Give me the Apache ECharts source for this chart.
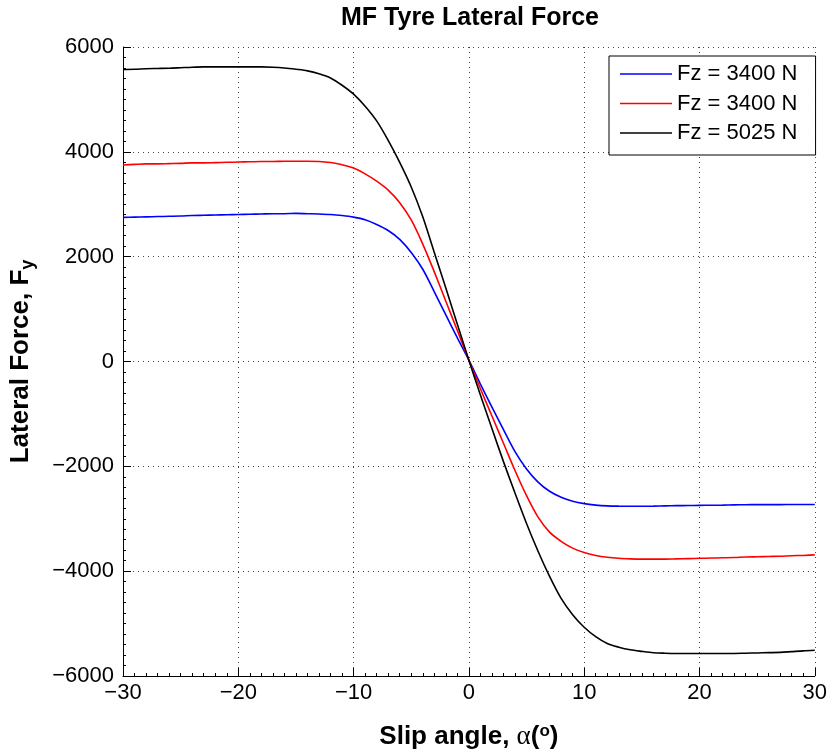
<!DOCTYPE html>
<html>
<head>
<meta charset="utf-8">
<script src="https://cdn.jsdelivr.net/npm/echarts@6/dist/echarts.min.js"></script>
<style>html,body{margin:0;padding:0;background:#fff;}#c{width:830px;height:755px;}</style>
</head>
<body>
<div id="c"></div>
<script>
const alpha = [-30,-29,-28,-27,-26,-25,-24,-23,-22,-21,-20,-19,-18,-17,-16,-15,-14,-13,-12,-11,-10,-9,-8,-7,-6,-5,-4,-3,-2,-1,0,1,2,3,4,5,6,7,8,9,10,11,12,13,14,15,16,17,18,19,20,21,22,23,24,25,26,27,28,29,30];
const fyBlue = [2750,2755,2760,2765,2770,2775,2785,2790,2795,2800,2805,2810,2815,2820,2820,2825,2820,2815,2805,2785,2755,2705,2615,2500,2330,2080,1760,1330,890,450,25,-430,-870,-1300,-1720,-2050,-2300,-2475,-2590,-2665,-2712,-2740,-2755,-2760,-2762,-2762,-2760,-2755,-2750,-2748,-2745,-2742,-2740,-2735,-2732,-2730,-2730,-2730,-2728,-2728,-2728];
const fyRed = [3750,3760,3770,3770,3775,3780,3790,3790,3795,3800,3805,3810,3815,3815,3820,3820,3820,3815,3795,3755,3690,3580,3440,3270,3030,2700,2240,1710,1150,590,25,-520,-1040,-1560,-2080,-2560,-2970,-3255,-3430,-3560,-3645,-3700,-3735,-3755,-3765,-3770,-3770,-3770,-3765,-3760,-3755,-3750,-3745,-3740,-3730,-3725,-3720,-3715,-3705,-3700,-3690];
const fyBlack = [5570,5575,5585,5590,5595,5605,5615,5620,5620,5620,5620,5620,5620,5615,5600,5575,5545,5490,5410,5270,5100,4870,4590,4220,3800,3330,2760,2080,1400,710,25,-640,-1280,-1910,-2510,-3090,-3620,-4100,-4520,-4830,-5070,-5250,-5380,-5450,-5500,-5530,-5555,-5565,-5570,-5570,-5570,-5570,-5570,-5570,-5565,-5560,-5555,-5550,-5535,-5520,-5510];
const seriesNames = ['Fz = 3400 N','Fz = 3400 N ','Fz = 5025 N'];
const seriesColors = ['#0000ff','#ff0000','#000000'];
const xTicks = {min:-30, max:30, interval:10};
const yTicks = {min:-6000, max:6000, interval:2000};

const zip = ys => alpha.map((a,i)=>[a, ys[i]]);
const minusFmt = v => String(v).replace('-', '\u2212');
const font = 'Liberation Sans, Arial, Helvetica, sans-serif';

const chart = echarts.init(document.getElementById('c'), null, {renderer:'canvas'});
const gridLine = {show:true, lineStyle:{color:'#444', width:1, type:[1,4]}};
chart.setOption({
  animation:false,
  backgroundColor:'#fff',
  title:{text:'MF Tyre Lateral Force', left:470, textAlign:'center', top:6, padding:0,
    textStyle:{fontFamily:font, fontWeight:'bold', fontSize:25, color:'#000'}},
  grid:{left:122, right:12, top:47, bottom:76, containLabel:false},
  legend:{orient:'vertical', left:609, top:56, padding:[7,12,11,11], itemGap:7.5,
    itemWidth:52, itemHeight:1.6, itemTextGap:6, icon:'rect',
    backgroundColor:'#fff', borderColor:'#000', borderWidth:1, borderRadius:0,
    textStyle:{fontFamily:font, fontSize:22, lineHeight:22, color:'#000'},
    data:seriesNames},
  xAxis:{type:'value', min:xTicks.min, max:xTicks.max, interval:xTicks.interval,
    name:'{b|Slip angle, }{g|α}{b|(}{s|o}{b|)}', nameLocation:'middle', nameGap:47,
    nameTextStyle:{rich:{
      b:{fontFamily:font, fontWeight:'bold', fontSize:26, color:'#000'},
      g:{fontFamily:'Liberation Serif, Times New Roman, serif', fontSize:27, color:'#000'},
      s:{fontFamily:font, fontWeight:'bold', fontSize:17, color:'#000', verticalAlign:'top', padding:[0,0,10,0]}}},
    axisLine:{show:true, onZero:false, lineStyle:{color:'#000', width:1}},
    axisTick:{show:true, inside:true, length:8, lineStyle:{color:'#000'}},
    minorTick:{show:true, splitNumber:10, length:3, lineStyle:{color:'#000'}},
    axisLabel:{fontFamily:font, fontSize:22, color:'#000', margin:6, formatter:minusFmt},
    splitLine:gridLine},
  yAxis:{type:'value', min:yTicks.min, max:yTicks.max, interval:yTicks.interval,
    name:'{b|Lateral Force, F}{s|y}', nameLocation:'middle', nameGap:86, nameRotate:90,
    nameTextStyle:{rich:{
      b:{fontFamily:font, fontWeight:'bold', fontSize:26, color:'#000'},
      s:{fontFamily:font, fontWeight:'bold', fontSize:18, color:'#000', padding:[14,0,0,0]}}},
    axisLine:{show:true, onZero:false, lineStyle:{color:'#000', width:1}},
    axisTick:{show:true, inside:true, length:8, lineStyle:{color:'#000'}},
    minorTick:{show:true, splitNumber:10, length:3, lineStyle:{color:'#000'}},
    axisLabel:{fontFamily:font, fontSize:22, color:'#000', margin:9, formatter:minusFmt},
    splitLine:gridLine},
  series:[fyBlue, fyRed, fyBlack].map((ys,i)=>({
    type:'line', name:seriesNames[i], data:zip(ys), symbol:'none', smooth:0.3,
    lineStyle:{color:seriesColors[i], width:1.6}, itemStyle:{color:seriesColors[i]}, z:2+i
  }))
});
</script>
</body>
</html>
